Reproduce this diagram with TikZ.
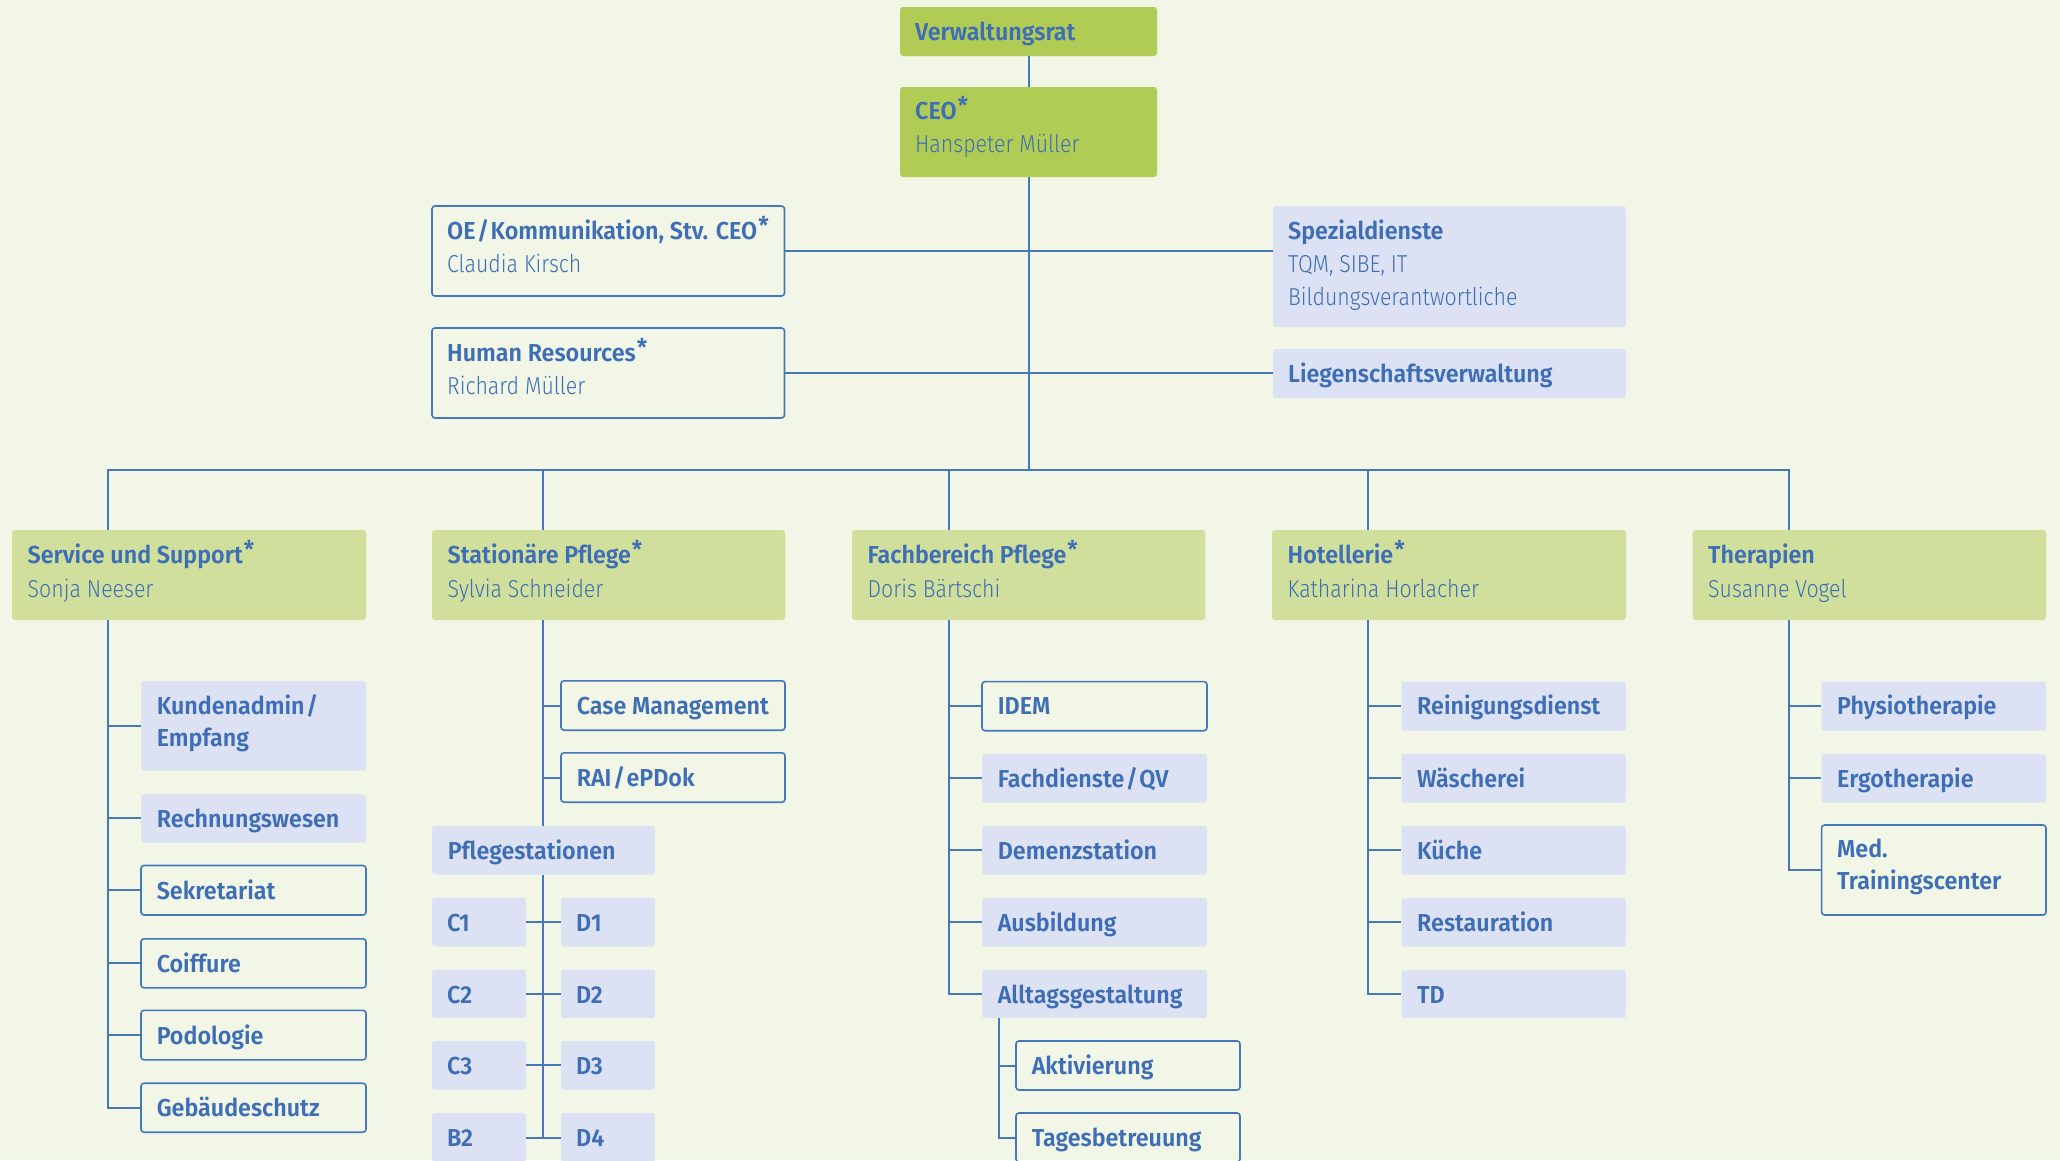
\documentclass[tikz,border=0pt]{standalone}
\usepackage{fontspec}
\setmainfont{Fira Sans}[BoldFont={Fira Sans SemiBold},BoldFeatures={FakeStretch=0.95},Ligatures=NoCommon]
\newfontfamily\lightfont{Fira Sans Light}[FakeStretch=0.87,Ligatures=NoCommon]
\usetikzlibrary{fit}
\definecolor{bg}{HTML}{F1F6E6}
\definecolor{txtblue}{HTML}{3E6EB5}
\definecolor{lineblue}{HTML}{4677BD}
\definecolor{topgreen}{HTML}{B1CC55}
\definecolor{deptgreen}{HTML}{D0E09C}
\definecolor{lav}{HTML}{DCE2F4}
\newcommand\slsh{\kern1.5pt/\kern1.5pt}
\newcommand\stern{\kern1pt\raisebox{5pt}{*}}
\begin{document}
\begin{tikzpicture}[x=1pt,y=-1pt,
  conn/.style={draw=lineblue, line width=2pt},
  basebox/.style={inner sep=0pt, rounded corners=3pt},
  topbox/.style={basebox, fill=topgreen},
  deptbox/.style={basebox, fill=deptgreen},
  lavbox/.style={basebox, fill=lav},
  outbox/.style={basebox, draw=lineblue, line width=1.6pt},
  ttl/.style={inner sep=0pt, anchor=base west, text=txtblue, font=\fontsize{24.5}{30}\selectfont\bfseries},
  nm/.style={inner sep=0pt, anchor=base west, text=txtblue, font=\fontsize{24.5}{30}\selectfont\lightfont}]
\fill[bg] (0,0) rectangle (2060,1160);
\useasboundingbox (0,0) rectangle (2060,1160);

% top
\node[topbox, fit={(900,7) (1157,56)}] (vr) {};
\node[ttl] (vrt) at (915,40) {Verwaltungsrat};
\node[topbox, fit={(900,87) (1157,177)}] (ceo) {};
\node[ttl] (ceot) at (915,119) {CEO\stern};
\node[nm] (ceon) at (915,152.5) {Hanspeter Müller};
\node[outbox, fit={(432,206) (784.5,296)}] (oe) {};
\node[ttl] (oet) at (447,239) {OE\slsh Kommunikation, Stv. CEO\stern};
\node[nm] (oen) at (447,272) {Claudia Kirsch};
\node[outbox, fit={(432,328) (784.5,418)}] (hr) {};
\node[ttl] (hrt) at (447,361) {Human Resources\stern};
\node[nm] (hrn) at (447,394) {Richard Müller};
\node[lavbox, fit={(1273,206) (1626,327)}] (spez) {};
\node[ttl] (spezt) at (1288,239) {Spezialdienste};
\node[nm] (spezn1) at (1288,272) {TQM, SIBE, IT};
\node[nm] (spezn2) at (1288,305) {Bildungsverantwortliche};
\node[lavbox, fit={(1273,349) (1626,398)}] (lieg) {};
\node[ttl] (liegt) at (1288,382) {Liegenschaftsverwaltung};

% departments
\node[deptbox, fit={(12,530) (366,620)}] (sus) {};
\node[ttl] (sust) at (27.5,563) {Service und Support\stern};
\node[nm] (susn) at (27.5,597) {Sonja Neeser};
\node[deptbox, fit={(432,530) (785.3,620)}] (sta) {};
\node[ttl] (stat) at (447.5,563) {Stationäre Pflege\stern};
\node[nm] (stan) at (447.5,597) {Sylvia Schneider};
\node[deptbox, fit={(852,530) (1205.4,620)}] (fb) {};
\node[ttl] (fbt) at (867.5,563) {Fachbereich Pflege\stern};
\node[nm] (fbn) at (867.5,597) {Doris Bärtschi};
\node[deptbox, fit={(1272,530) (1626,620)}] (hot) {};
\node[ttl] (hott) at (1287.5,563) {Hotellerie\stern};
\node[nm] (hotn) at (1287.5,597) {Katharina Horlacher};
\node[deptbox, fit={(1692.6,530) (2046,620)}] (the) {};
\node[ttl] (thet) at (1708,563) {Therapien};
\node[nm] (then) at (1708,597) {Susanne Vogel};

% Service und Support children
\node[lavbox, fit={(141,681) (366,770.5)}] (ka) {};
\node[ttl] (kat1) at (156.6,714.6) {Kundenadmin\slsh};
\node[ttl] (kat2) at (156.6,746.7) {Empfang};
\node[lavbox, fit={(141,794.4) (366,842.5)}] (rw) {};
\node[ttl] (rwt) at (156.6,827) {Rechnungswesen};
\node[outbox, fit={(141,865.5) (366,915)}] (sek) {};
\node[ttl] (sekt) at (156.6,899) {Sekretariat};
\node[outbox, fit={(141,938.8) (366,987.8)}] (coi) {};
\node[ttl] (coit) at (156.6,972) {Coiffure};
\node[outbox, fit={(141,1010.3) (366,1059.8)}] (pod) {};
\node[ttl] (podt) at (156.6,1044) {Podologie};
\node[outbox, fit={(141,1083.2) (366,1132.2)}] (geb) {};
\node[ttl] (gebt) at (156.6,1116) {Gebäudeschutz};

% Stationaere Pflege children
\node[outbox, fit={(561,680.8) (785,730.2)}] (cm) {};
\node[ttl] (cmt) at (576.6,714) {Case Management};
\node[outbox, fit={(561,752.8) (785,802.2)}] (rai) {};
\node[ttl] (rait) at (576.6,786) {RAI\slsh ePDok};
\node[lavbox, fit={(432,826) (655,874.6)}] (pfl) {};
\node[ttl] (pflt) at (447.6,859) {Pflegestationen};
\node[lavbox, fit={(432,897.6) (526,946.6)}] (c1) {};
\node[ttl] (c1t) at (447,931) {C1};
\node[lavbox, fit={(561,897.6) (655,946.6)}] (d1) {};
\node[ttl] (d1t) at (576,931) {D1};
\node[lavbox, fit={(432,969.6) (526,1018.2)}] (c2) {};
\node[ttl] (c2t) at (447,1003) {C2};
\node[lavbox, fit={(561,969.6) (655,1018.2)}] (d2) {};
\node[ttl] (d2t) at (576,1003) {D2};
\node[lavbox, fit={(432,1041.1) (526,1089.7)}] (c3) {};
\node[ttl] (c3t) at (447,1074) {C3};
\node[lavbox, fit={(561,1041.1) (655,1089.7)}] (d3) {};
\node[ttl] (d3t) at (576,1074) {D3};
\node[lavbox, fit={(432,1113.1) (526,1162)}] (b2) {};
\node[ttl] (b2t) at (447,1146) {B2};
\node[lavbox, fit={(561,1113.1) (655,1162)}] (d4) {};
\node[ttl] (d4t) at (576,1146) {D4};

% Fachbereich Pflege children
\node[outbox, fit={(982,681.6) (1207,730.7)}] (idem) {};
\node[ttl] (idemt) at (997.6,714.5) {IDEM};
\node[lavbox, fit={(982,754) (1207,802.6)}] (fd) {};
\node[ttl] (fdt) at (997.6,787) {Fachdienste\slsh QV};
\node[lavbox, fit={(982,826) (1207,874.6)}] (dem) {};
\node[ttl] (demt) at (997.6,859) {Demenzstation};
\node[lavbox, fit={(982,898) (1207,946.6)}] (aus) {};
\node[ttl] (aust) at (997.6,931) {Ausbildung};
\node[lavbox, fit={(982,970) (1207,1018.2)}] (all) {};
\node[ttl] (allt) at (997.6,1003) {Alltagsgestaltung};
\node[outbox, fit={(1016,1041) (1240,1090)}] (akt) {};
\node[ttl] (aktt) at (1031.6,1074) {Aktivierung};
\node[outbox, fit={(1016,1113) (1240,1162)}] (tag) {};
\node[ttl] (tagt) at (1031.6,1146) {Tagesbetreuung};

% Hotellerie children
\node[lavbox, fit={(1401.5,681.6) (1626,730.7)}] (rein) {};
\node[ttl] (reint) at (1417,714.5) {Reinigungsdienst};
\node[lavbox, fit={(1401.5,754) (1626,802.6)}] (wae) {};
\node[ttl] (waet) at (1417,787) {Wäscherei};
\node[lavbox, fit={(1401.5,826) (1626,874.6)}] (kue) {};
\node[ttl] (kuet) at (1417,859) {Küche};
\node[lavbox, fit={(1401.5,898) (1626,946.6)}] (rest) {};
\node[ttl] (restt) at (1417,931) {Restauration};
\node[lavbox, fit={(1401.5,970) (1626,1018.2)}] (td) {};
\node[ttl] (tdt) at (1417,1003) {TD};

% Therapien children
\node[lavbox, fit={(1821.6,681.6) (2046,730.7)}] (phys) {};
\node[ttl] (physt) at (1837,714.5) {Physiotherapie};
\node[lavbox, fit={(1821.6,754) (2046,802.6)}] (ergo) {};
\node[ttl] (ergot) at (1837,787) {Ergotherapie};
\node[outbox, fit={(1821.6,825) (2046,915)}] (med) {};
\node[ttl] (medt1) at (1837,857.3) {Med.};
\node[ttl] (medt2) at (1837,889.8) {Trainingscenter};

% connectors
\coordinate (bus) at (0,470);
\coordinate (sp1) at (107.5,0);
\coordinate (sp2) at (543.4,0);
\coordinate (sp3) at (949.4,0);
\coordinate (sp3b) at (999,0);
\coordinate (sp4) at (1368.4,0);
\coordinate (sp5) at (1789,0);

\draw[conn] (vr.south) -- (ceo.north);
\draw[conn] (ceo.south) -- (ceo.south |- bus);
\draw[conn] (oe.east) -- (oe.east -| spez.west);
\draw[conn] (hr.east) -- (hr.east -| lieg.west);
\draw[conn] (sp1 |- sus.north) -- (sp1 |- bus) -- (sp5 |- bus) -- (sp5 |- the.north);
\draw[conn] (sp2 |- bus) -- (sp2 |- sta.north);
\draw[conn] (sp3 |- bus) -- (sp3 |- fb.north);
\draw[conn] (sp4 |- bus) -- (sp4 |- hot.north);

\draw[conn] (sp1 |- sus.south) -- (sp1 |- geb.west) -- (geb.west);
\foreach \n in {ka,rw,sek,coi,pod} \draw[conn] (sp1 |- \n.west) -- (\n.west);

\draw[conn] (sp2 |- sta.south) -- (sp2 |- pfl.north);
\foreach \n in {cm,rai} \draw[conn] (sp2 |- \n.west) -- (\n.west);
\draw[conn] (sp2 |- pfl.south) -- (sp2 |- d4.west);
\draw[conn] (c1.east) -- (d1.west);
\draw[conn] (c2.east) -- (d2.west);
\draw[conn] (c3.east) -- (d3.west);
\draw[conn] (b2.east) -- (d4.west);

\draw[conn] (sp3 |- fb.south) -- (sp3 |- all.west) -- (all.west);
\foreach \n in {idem,fd,dem,aus} \draw[conn] (sp3 |- \n.west) -- (\n.west);
\draw[conn] (sp3b |- all.south) -- (sp3b |- tag.west) -- (tag.west);
\draw[conn] (sp3b |- akt.west) -- (akt.west);

\draw[conn] (sp4 |- hot.south) -- (sp4 |- td.west) -- (td.west);
\foreach \n in {rein,wae,kue,rest} \draw[conn] (sp4 |- \n.west) -- (\n.west);

\draw[conn] (sp5 |- the.south) -- (sp5 |- med.west) -- (med.west);
\foreach \n in {phys,ergo} \draw[conn] (sp5 |- \n.west) -- (\n.west);
\end{tikzpicture}
\end{document}
